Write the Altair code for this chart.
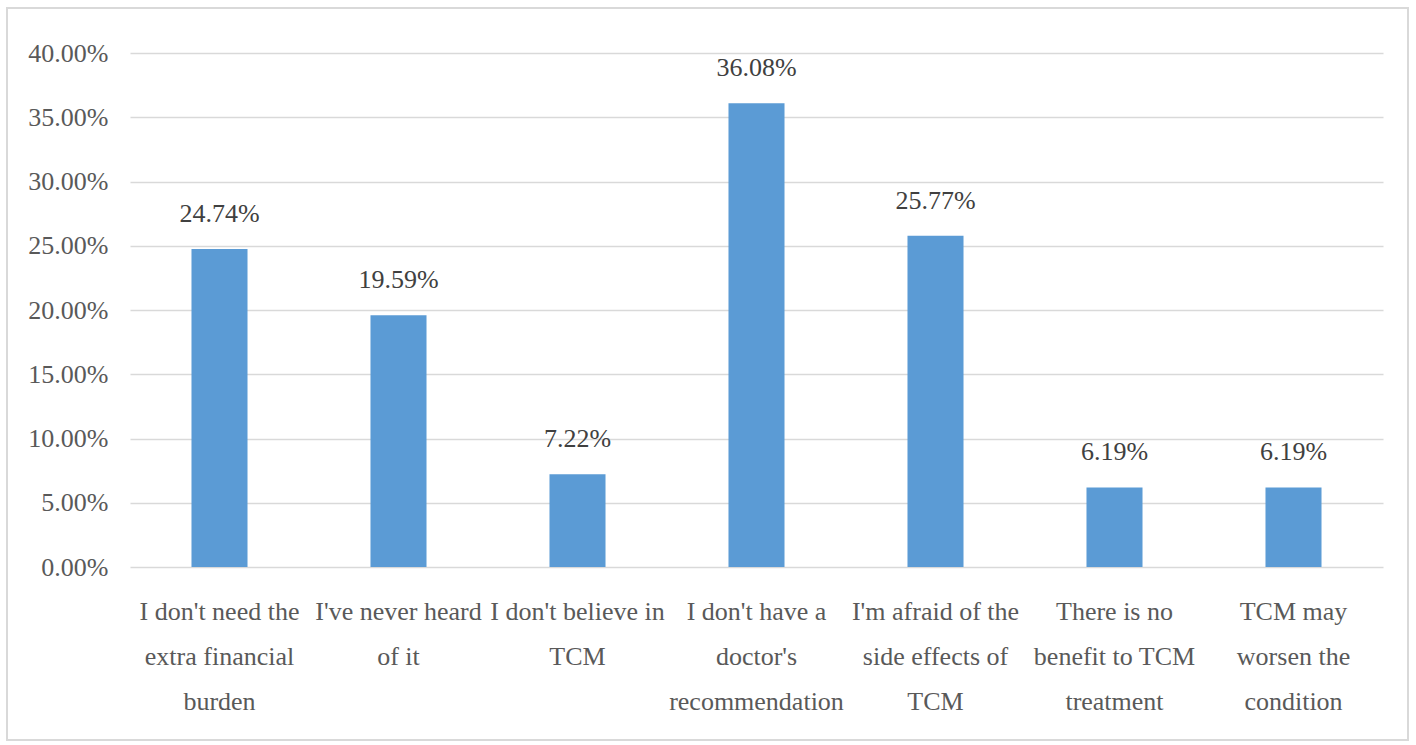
import altair as alt
import pandas as pd

# Reasons for not using TCM, share of respondents
reasons = [
    "I don't need the\nextra financial\nburden",
    "I've never heard\nof it",
    "I don't believe in\nTCM",
    "I don't have a\ndoctor's\nrecommendation",
    "I'm afraid of the\nside effects of\nTCM",
    "There is no\nbenefit to TCM\ntreatment",
    "TCM may\nworsen the\ncondition",
]
shares = [0.2474, 0.1959, 0.0722, 0.3608, 0.2577, 0.0619, 0.0619]

df = pd.DataFrame({"reason": reasons, "share": shares})

FONT = "'Liberation Serif', 'Times New Roman', 'DejaVu Serif', serif"
BLUE = "#5B9BD5"
GRID = "#d9d9d9"

x_enc = alt.X(
    "reason:N",
    sort=reasons,
    title=None,
    scale=alt.Scale(paddingInner=0.687, paddingOuter=0.3435),
    axis=alt.Axis(
        labelAngle=0,
        labelExpr="split(datum.label, '\\n')",
        labelFont=FONT,
        labelFontSize=26,
        labelLineHeight=45,
        labelColor="#595959",
        labelPadding=44,
        labelLimit=1000,
        labelOverlap=False,
        ticks=False,
        domain=False,
        grid=False,
        labelBaseline="middle",
    ),
)

y_enc = alt.Y(
    "share:Q",
    title=None,
    scale=alt.Scale(domain=[0, 0.4], nice=False),
    axis=alt.Axis(
        format=".2%",
        values=[0, 0.05, 0.1, 0.15, 0.2, 0.25, 0.3, 0.35, 0.4],
        labelFont=FONT,
        labelFontSize=26,
        labelColor="#595959",
        labelPadding=22,
        ticks=False,
        domain=False,
        grid=True,
        gridColor=GRID,
        gridWidth=1.5,
    ),
)

# Thin outer frame around the whole figure
frame = alt.Chart(df).mark_rect(
    filled=False, stroke=GRID, strokeWidth=2, clip=False
).encode(
    x=alt.value(-123), x2=alt.value(1278), y=alt.value(-45), y2=alt.value(687)
)

base = alt.Chart(df)

bars = base.mark_bar(color=BLUE).encode(x=x_enc, y=y_enc)

labels = base.mark_text(
    font=FONT, fontSize=26, color="#404040", baseline="alphabetic", dy=-27
).encode(
    x=alt.X("reason:N", sort=reasons),
    y="share:Q",
    text=alt.Text("share:Q", format=".2%"),
)

chart = (
    alt.layer(bars, labels, frame)
    .properties(
        width=1253,
        height=514,
        autosize=alt.AutoSizeParams(type="none"),
        padding={"left": 130, "top": 53, "right": 33, "bottom": 178},
        background="white",
    )
    .configure_view(stroke=None)
)

chart.save("out.html", embed_options={"renderer": "svg", "actions": False})
